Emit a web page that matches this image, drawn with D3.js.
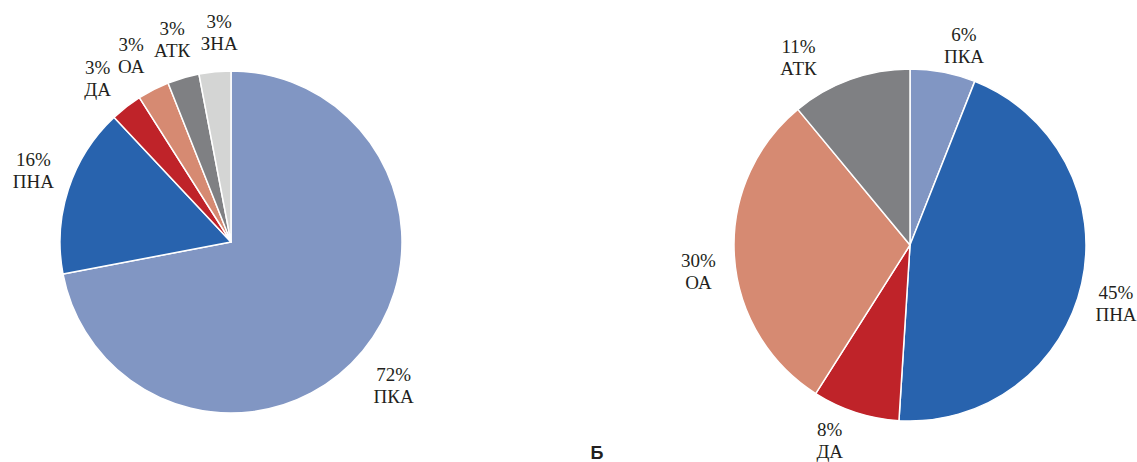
<!DOCTYPE html>
<html>
<head>
<meta charset="utf-8">
<script src="https://cdn.jsdelivr.net/npm/d3@7"></script>
<style>
  html, body { margin: 0; padding: 0; background: #fff; }
  svg { display: block; }
  .lbl text { font-family: "Liberation Serif"; font-size: 19px; fill: #231f20; }
  .panel { font-family: "Liberation Sans"; font-weight: bold; font-size: 18px; fill: #231f20; }
</style>
</head>
<body>
<svg id="chart" width="1137" height="462"></svg>
<script>
// Artery categories and their shares (%) in the two groups
const categoriesLeft = ["ПКА", "ПНА", "ДА", "ОА", "АТК", "ЗНА"];
const valuesLeft = [72, 16, 3, 3, 3, 3];

const categoriesRight = ["ПКА", "ПНА", "ДА", "ОА", "АТК"];
const valuesRight = [6, 45, 8, 30, 11];

const panelLabel = "Б";

// Colour per artery
const colorScale = d3.scaleOrdinal()
  .domain(["ПКА", "ПНА", "ДА", "ОА", "АТК", "ЗНА"])
  .range(["#8196c3", "#2863ae", "#bf2329", "#d68a72", "#7f8083", "#d4d5d4"]);

const svg = d3.select("#chart");

// Draw one pie with two-line labels (value, name) outside the slices
function drawPie(cats, vals, cx, cy, r, labelR, nudges) {
  const data = cats.map((c, i) => ({ cat: c, value: vals[i] }));
  const pie = d3.pie().value(d => d.value).sort(null);
  const arcs = pie(data);
  const arc = d3.arc().innerRadius(0).outerRadius(r);
  const labelArc = d3.arc().innerRadius(labelR).outerRadius(labelR);

  const g = svg.append("g").attr("transform", `translate(${cx},${cy})`);

  g.selectAll("path")
    .data(arcs)
    .join("path")
    .attr("d", arc)
    .attr("fill", d => colorScale(d.data.cat))
    .attr("stroke", "#ffffff")
    .attr("stroke-width", 1.5)
    .attr("stroke-linejoin", "round");

  const labels = g.selectAll("g.lbl")
    .data(arcs)
    .join("g")
    .attr("class", "lbl")
    .attr("transform", (d, i) => {
      const [x, y] = labelArc.centroid(d);
      const [nx, ny] = nudges[i];
      return `translate(${x + nx},${y + ny})`;
    });

  labels.append("text")
    .attr("text-anchor", "middle")
    .attr("y", -4)
    .text(d => d.data.value + "%");

  labels.append("text")
    .attr("text-anchor", "middle")
    .attr("y", 18)
    .text(d => d.data.cat);
}

drawPie(categoriesLeft, valuesLeft, 231, 242, 171, 211,
  [[0, 9], [3, -7], [-4, 3], [-4, 1], [0, 0], [8, 0]]);

drawPie(categoriesRight, valuesRight, 910, 245, 176, 208,
  [[15, 4], [3, 13], [-16, -3], [-4, 13], [-41, 8]]);

svg.append("text")
  .attr("class", "panel")
  .attr("x", 597)
  .attr("y", 459)
  .attr("text-anchor", "middle")
  .text(panelLabel);
</script>
</body>
</html>
